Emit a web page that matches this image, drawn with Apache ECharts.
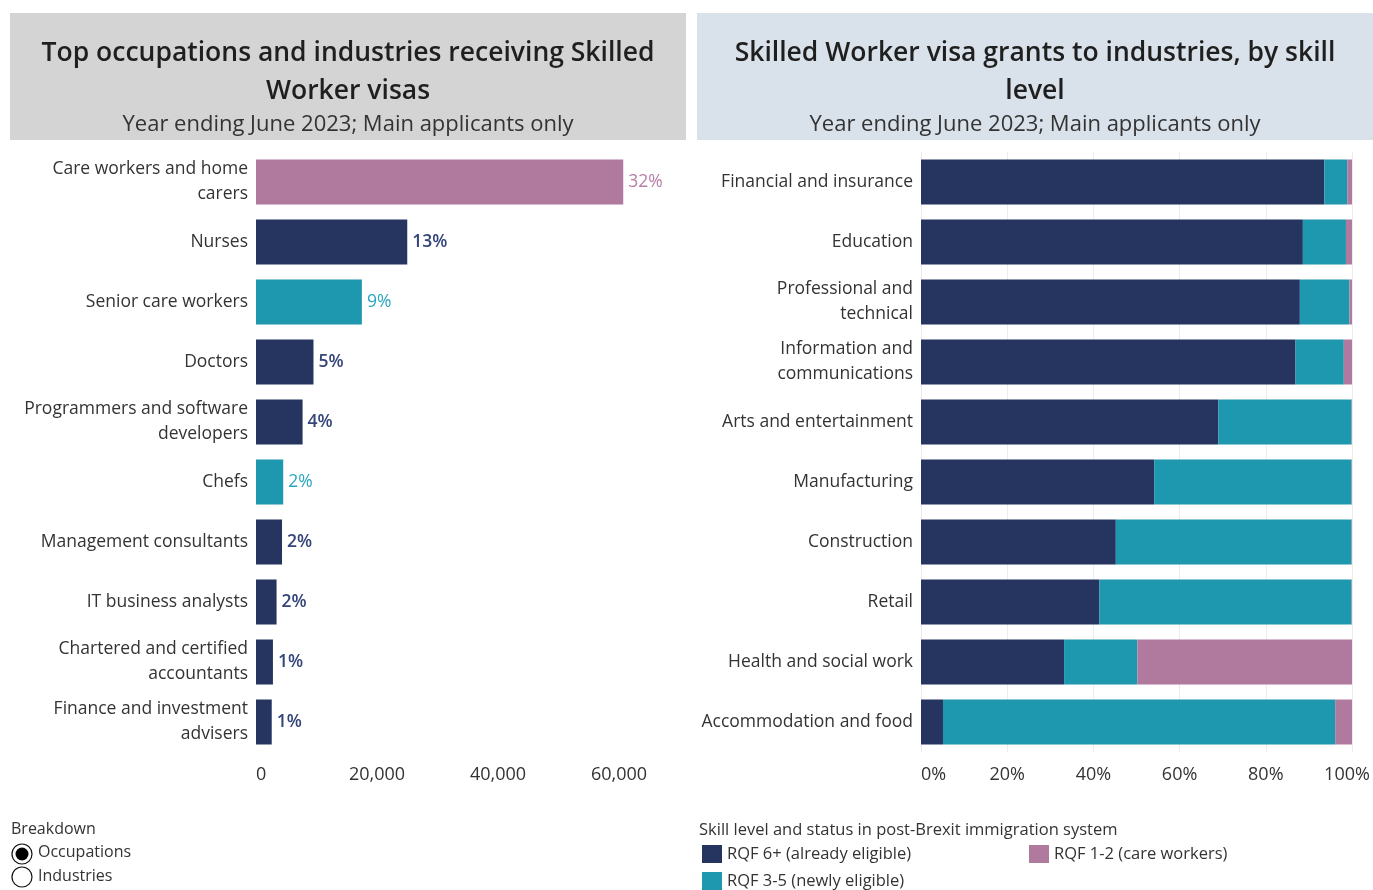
<!DOCTYPE html>
<html>
<head>
<meta charset="utf-8">
<title>Skilled Worker visas</title>
<script src="https://cdn.jsdelivr.net/npm/echarts@6/dist/echarts.min.js"></script>
<style>
  html, body { margin: 0; padding: 0; background: #fff; }
  #chart { width: 1373px; height: 890px; }
</style>
</head>
<body>
<div id="chart"></div>
<script>
// Top occupations (main applicants, year ending June 2023)
const occupations = [
  'Care workers and home\ncarers', 'Nurses', 'Senior care workers', 'Doctors',
  'Programmers and software\ndevelopers', 'Chefs', 'Management consultants',
  'IT business analysts', 'Chartered and certified\naccountants',
  'Finance and investment\nadvisers'
];
const occupationGrants = [60700, 25000, 17500, 9500, 7700, 4500, 4300, 3400, 2800, 2600];
// Skill level of each occupation: 'rqf6', 'rqf35' or 'rqf12'
const occupationLevel = ['rqf12', 'rqf6', 'rqf35', 'rqf6', 'rqf6', 'rqf35', 'rqf6', 'rqf6', 'rqf6', 'rqf6'];
// All Skilled Worker main-applicant grants, used for the share labels
const totalGrants = 190000;
const occupationTicks = [0, 20000, 40000, 60000];

// Industries split by skill level (share of grants, %)
const industries = [
  'Financial and insurance', 'Education', 'Professional and\ntechnical',
  'Information and\ncommunications', 'Arts and entertainment', 'Manufacturing',
  'Construction', 'Retail', 'Health and social work', 'Accommodation and food'
];
const rqf6 = [93.6, 88.6, 87.9, 86.9, 69.0, 54.1, 45.2, 41.4, 33.2, 5.1];
const rqf35 = [5.3, 10.0, 11.5, 11.2, 30.9, 45.8, 54.7, 58.5, 17.0, 91.0];
const rqf12 = [1.1, 1.4, 0.6, 1.9, 0.1, 0.1, 0.1, 0.1, 49.8, 3.9];

const levelNames = {
  rqf6: 'RQF 6+ (already eligible)',
  rqf35: 'RQF 3-5 (newly eligible)',
  rqf12: 'RQF 1-2 (care workers)'
};
const levelColors = { rqf6: '#25355f', rqf35: '#1e98ae', rqf12: '#b0799e' };
const labelColors = { rqf6: '#34457a', rqf35: '#2aa6bf', rqf12: '#b67fa5' };

const FONT = '"Open Sans", "Noto Sans", sans-serif';
const TEXT = '#333333';

const chart = echarts.init(document.getElementById('chart'), null, { renderer: 'canvas' });

const occupationData = occupationGrants.map((v, i) => ({
  value: v,
  itemStyle: { color: levelColors[occupationLevel[i]] },
  label: {
    color: labelColors[occupationLevel[i]],
    fontWeight: occupationLevel[i] === 'rqf6' ? 600 : 400
  }
}));

const titleText = { fontFamily: FONT, fontSize: 26.5, fontWeight: 600, fill: '#1f1f1f' };
const subText = { fontFamily: FONT, fontSize: 22, fill: '#333333' };

// One single-item legend per skill level, laid out as two columns
function legendItem(key, left, top) {
  return {
    left: left, top: top, padding: 0, itemWidth: 20, itemHeight: 18, itemGap: 6,
    icon: 'rect', selectedMode: false,
    textStyle: { fontFamily: FONT, fontSize: 16.5, color: TEXT },
    data: [levelNames[key]]
  };
}

chart.setOption({
  animation: false,
  textStyle: { fontFamily: FONT },
  graphic: [
    { type: 'rect', z: 0, shape: { x: 10, y: 13, width: 676, height: 127 }, style: { fill: '#d4d4d4' } },
    { type: 'rect', z: 0, shape: { x: 697, y: 13, width: 676, height: 127 }, style: { fill: '#d9e1ea' } },
    { type: 'text', z: 1, x: 348, y: 53, style: Object.assign({ text: 'Top occupations and industries receiving Skilled', align: 'center', verticalAlign: 'middle' }, titleText) },
    { type: 'text', z: 1, x: 348, y: 91, style: Object.assign({ text: 'Worker visas', align: 'center', verticalAlign: 'middle' }, titleText) },
    { type: 'text', z: 1, x: 348, y: 125, style: Object.assign({ text: 'Year ending June 2023; Main applicants only', align: 'center', verticalAlign: 'middle' }, subText) },
    { type: 'text', z: 1, x: 1035, y: 53, style: Object.assign({ text: 'Skilled Worker visa grants to industries, by skill', align: 'center', verticalAlign: 'middle' }, titleText) },
    { type: 'text', z: 1, x: 1035, y: 91, style: Object.assign({ text: 'level', align: 'center', verticalAlign: 'middle' }, titleText) },
    { type: 'text', z: 1, x: 1035, y: 125, style: Object.assign({ text: 'Year ending June 2023; Main applicants only', align: 'center', verticalAlign: 'middle' }, subText) },
    // Breakdown selector
    { type: 'text', x: 11, y: 829, style: { text: 'Breakdown', fontFamily: FONT, fontSize: 16, fill: TEXT, verticalAlign: 'middle' } },
    { type: 'circle', shape: { cx: 22, cy: 854, r: 10 }, style: { fill: '#fff', stroke: '#111', lineWidth: 1.2 } },
    { type: 'circle', shape: { cx: 22, cy: 854, r: 6.5 }, style: { fill: '#000' } },
    { type: 'text', x: 38, y: 852, style: { text: 'Occupations', fontFamily: FONT, fontSize: 16, fill: TEXT, verticalAlign: 'middle' } },
    { type: 'circle', shape: { cx: 22, cy: 877, r: 10 }, style: { fill: '#fff', stroke: '#111', lineWidth: 1.2 } },
    { type: 'text', x: 38, y: 876, style: { text: 'Industries', fontFamily: FONT, fontSize: 16, fill: TEXT, verticalAlign: 'middle' } },
    // Legend heading
    { type: 'text', x: 699, y: 830, style: { text: 'Skill level and status in post-Brexit immigration system', fontFamily: FONT, fontSize: 16.5, fill: TEXT, verticalAlign: 'middle' } }
  ],
  legend: [
    legendItem('rqf6', 702, 845),
    legendItem('rqf35', 702, 872),
    legendItem('rqf12', 1029, 845)
  ],
  grid: [
    { left: 256, top: 152, width: 423.5, height: 600, containLabel: false, outerBoundsMode: 'none' },
    { left: 921, top: 152, width: 431, height: 600, containLabel: false, outerBoundsMode: 'none' }
  ],
  xAxis: [
    {
      gridIndex: 0, type: 'value', min: 0, max: 70000, interval: 20000,
      axisLine: { show: false }, axisTick: { show: false }, splitLine: { show: false },
      axisLabel: {
        margin: 14, fontSize: 18, color: TEXT, alignMinLabel: 'left', showMaxLabel: false,
        formatter: v => occupationTicks.includes(v) ? v.toLocaleString('en-GB') : ''
      }
    },
    {
      gridIndex: 1, type: 'value', min: 0, max: 100, interval: 20,
      axisLine: { show: false }, axisTick: { show: false },
      splitLine: { show: true, lineStyle: { color: '#ececec', width: 1 } },
      axisLabel: {
        margin: 14, fontSize: 18, color: TEXT, alignMinLabel: 'left',
        // the 100% label is nudged left so it stays inside the page
        formatter: v => v === 100 ? '{end|' + v + '%}' : v + '%',
        rich: { end: { fontSize: 18, color: TEXT, padding: [0, 10, 0, 0] } }
      }
    }
  ],
  yAxis: [
    {
      gridIndex: 0, type: 'category', data: occupations, inverse: true,
      axisLine: { show: false }, axisTick: { show: false },
      axisLabel: { margin: 8, fontSize: 17.5, color: TEXT, lineHeight: 25, align: 'right', padding: [3, 0, 0, 0] }
    },
    {
      gridIndex: 1, type: 'category', data: industries, inverse: true,
      axisLine: { show: false }, axisTick: { show: false },
      axisLabel: { margin: 8, fontSize: 17.5, color: TEXT, lineHeight: 25, align: 'right', padding: [3, 0, 0, 0] }
    }
  ],
  series: [
    {
      name: 'Grants by occupation', type: 'bar', xAxisIndex: 0, yAxisIndex: 0,
      barWidth: 45, data: occupationData,
      label: {
        show: true, position: 'right', distance: 5, fontSize: 17.5,
        formatter: p => Math.round(p.value / totalGrants * 100) + '%'
      }
    },
    {
      name: levelNames.rqf6, type: 'bar', stack: 'skill', xAxisIndex: 1, yAxisIndex: 1,
      barWidth: 45, itemStyle: { color: levelColors.rqf6 }, data: rqf6
    },
    {
      name: levelNames.rqf35, type: 'bar', stack: 'skill', xAxisIndex: 1, yAxisIndex: 1,
      barWidth: 45, itemStyle: { color: levelColors.rqf35 }, data: rqf35
    },
    {
      name: levelNames.rqf12, type: 'bar', stack: 'skill', xAxisIndex: 1, yAxisIndex: 1,
      barWidth: 45, itemStyle: { color: levelColors.rqf12 }, data: rqf12
    }
  ]
});
</script>
</body>
</html>
